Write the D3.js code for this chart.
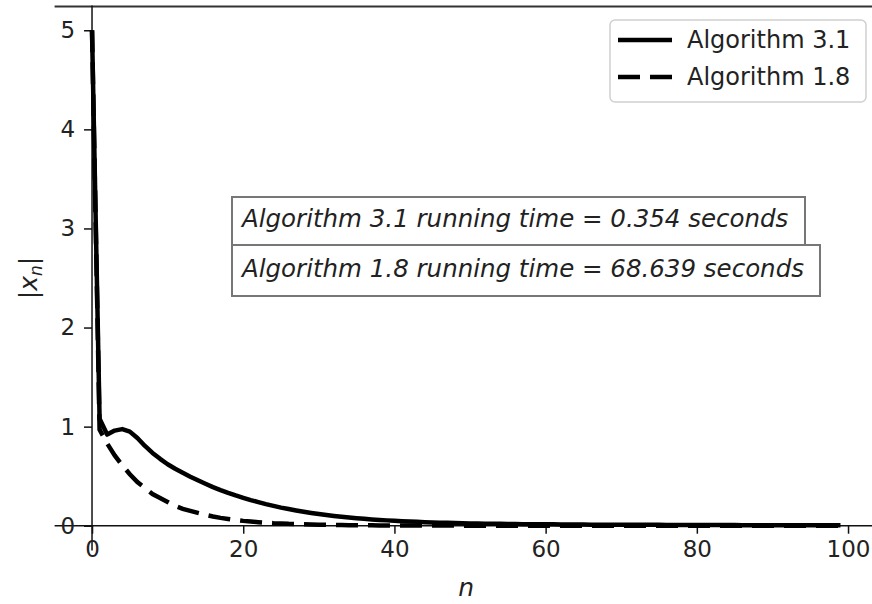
<!DOCTYPE html>
<html>
<head>
<meta charset="utf-8">
<script src="https://cdn.jsdelivr.net/npm/d3@7"></script>
<style>
  html, body { margin: 0; padding: 0; background: #fff; }
  svg { display: block; font-family: "DejaVu Sans", sans-serif; }
</style>
</head>
<body>
<svg id="chart" width="872" height="604"></svg>
<script>
// ---------- data ----------
const seriesNames = ["Algorithm 3.1", "Algorithm 1.8"];
const alg31 = [
  5.0, 1.08, 0.92, 0.96, 0.975, 0.95, 0.885, 0.805, 0.735, 0.675,
  0.62, 0.575, 0.535, 0.495, 0.458, 0.423, 0.39, 0.36, 0.332, 0.306,
  0.282, 0.259, 0.238, 0.218, 0.200, 0.183, 0.168, 0.154, 0.141, 0.129,
  0.118, 0.108, 0.099, 0.091, 0.083, 0.076, 0.070, 0.064, 0.059, 0.054,
  0.050, 0.046, 0.042, 0.039, 0.036, 0.033, 0.031, 0.029, 0.027, 0.025,
  0.023, 0.022, 0.021, 0.020, 0.019, 0.018, 0.017, 0.016, 0.015, 0.015,
  0.014, 0.014, 0.013, 0.013, 0.012, 0.012, 0.011, 0.011, 0.011, 0.010,
  0.010, 0.010, 0.009, 0.009, 0.009, 0.009, 0.008, 0.008, 0.008, 0.008,
  0.008, 0.007, 0.007, 0.007, 0.007, 0.007, 0.006, 0.006, 0.006, 0.006,
  0.006, 0.006, 0.006, 0.005, 0.005, 0.005, 0.005, 0.005, 0.005, 0.005
];
const alg18 = [
  5.0, 0.97, 0.83, 0.71, 0.61, 0.52, 0.44, 0.38, 0.32, 0.28,
  0.24, 0.20, 0.17, 0.15, 0.13, 0.11, 0.093, 0.079, 0.068, 0.058,
  0.049, 0.042, 0.036, 0.031, 0.026, 0.023, 0.019, 0.017, 0.014, 0.012,
  0.010, 0.009, 0.008, 0.007, 0.006, 0.005, 0.0045, 0.004, 0.0035, 0.003,
  0.0027, 0.0024, 0.0021, 0.0019, 0.0017, 0.0015, 0.0013, 0.0012, 0.0011, 0.0010,
  0.0009, 0.0008, 0.0007, 0.0007, 0.0006, 0.0006, 0.0005, 0.0005, 0.0004, 0.0004,
  0.0004, 0.0003, 0.0003, 0.0003, 0.0003, 0.0003, 0.0003, 0.0003, 0.0003, 0.0003,
  0.0003, 0.0003, 0.0003, 0.0002, 0.0002, 0.0002, 0.0002, 0.0002, 0.0002, 0.0002,
  0.0002, 0.0002, 0.0002, 0.0002, 0.0002, 0.0002, 0.0002, 0.0002, 0.0002, 0.0002,
  0.0002, 0.0001, 0.0001, 0.0001, 0.0001, 0.0001, 0.0001, 0.0001, 0.0001, 0.0001
];
const xTicks = [0, 20, 40, 60, 80, 100];
const yTicks = [0, 1, 2, 3, 4, 5];
const annotations = [
  "Algorithm 3.1 running time = 0.354 seconds",
  "Algorithm 1.8 running time = 68.639 seconds"
];

// ---------- layout ----------
const svg = d3.select("#chart");
const box = { left: 54.6, right: 877.9, top: 5.5, bottom: 550.5 };
const x = d3.scaleLinear().domain([-4.95, 103.95]).range([box.left, box.right]);
const y = d3.scaleLinear().domain([-0.25, 5.25]).range([box.bottom, box.top]);
const ink = "#111";
const tickFont = 23;

// spines: left and bottom at data zero, top at the box edge
svg.append("line").attr("x1", box.left).attr("x2", box.right)
  .attr("y1", box.top + 1).attr("y2", box.top + 1)
  .attr("stroke", "#333").attr("stroke-width", 2);
svg.append("line").attr("x1", x(0)).attr("x2", x(0))
  .attr("y1", box.top).attr("y2", box.bottom)
  .attr("stroke", ink).attr("stroke-width", 1.5);
svg.append("line").attr("x1", box.left).attr("x2", box.right)
  .attr("y1", y(0)).attr("y2", y(0))
  .attr("stroke", ink).attr("stroke-width", 1.5);

// axes
const xAxis = svg.append("g").attr("transform", `translate(0,${y(0)})`)
  .call(d3.axisBottom(x).tickValues(xTicks).tickFormat(d3.format("d")).tickSize(8).tickPadding(7));
const yAxis = svg.append("g").attr("transform", `translate(${x(0)},0)`)
  .call(d3.axisLeft(y).tickValues(yTicks).tickFormat(d3.format("d")).tickSize(8).tickPadding(9));
[xAxis, yAxis].forEach(g => {
  g.select(".domain").remove();
  g.selectAll(".tick line").attr("stroke", ink).attr("stroke-width", 1.5);
  g.selectAll(".tick text").attr("fill", "#222")
    .style("font-family", "DejaVu Sans").style("font-size", tickFont + "px");
});

// lines
const line = d3.line().x((d, i) => x(i)).y(d => y(d));
svg.append("path").datum(alg31).attr("d", line)
  .attr("fill", "none").attr("stroke", "#000").attr("stroke-width", 4.5)
  .attr("stroke-linejoin", "round");
svg.append("path").datum(alg18).attr("d", line)
  .attr("fill", "none").attr("stroke", "#000").attr("stroke-width", 4.5)
  .attr("stroke-dasharray", "22,10");

// axis labels
svg.append("text").attr("x", (box.left + box.right) / 2).attr("y", 596)
  .attr("text-anchor", "middle").style("font-size", "25px").style("font-style", "italic")
  .attr("fill", "#222").text("n");
const yl = svg.append("text").attr("transform", "translate(37,278) rotate(-90)")
  .attr("text-anchor", "middle").style("font-size", "25px").attr("fill", "#222");
yl.append("tspan").text("|");
yl.append("tspan").style("font-style", "italic").text("x");
yl.append("tspan").style("font-style", "italic").style("font-size", "17px").attr("dy", 5).text("n");
yl.append("tspan").attr("dy", -5).text("|");

// annotation boxes
const annBoxes = [
  { x: 232, y: 197, w: 573, h: 48, base: 227 },
  { x: 232, y: 245, w: 588, h: 51, base: 277 }
];
annotations.forEach((t, i) => {
  const b = annBoxes[i];
  svg.append("rect").attr("x", b.x).attr("y", b.y).attr("width", b.w).attr("height", b.h)
    .attr("fill", "#fff").attr("stroke", "#777").attr("stroke-width", 2);
  svg.append("text").attr("x", b.x + 10).attr("y", b.base)
    .style("font-size", "24.5px").style("font-style", "italic").attr("fill", "#222").text(t);
});

// legend
const lg = svg.append("g");
lg.append("rect").attr("x", 610).attr("y", 20).attr("width", 256).attr("height", 82)
  .attr("rx", 5).attr("fill", "#fff").attr("stroke", "#d0d0d0").attr("stroke-width", 1.5);
seriesNames.forEach((name, i) => {
  const ly = 40 + i * 37;
  lg.append("line").attr("x1", 618).attr("x2", 672).attr("y1", ly).attr("y2", ly)
    .attr("stroke", "#000").attr("stroke-width", 4.5)
    .attr("stroke-dasharray", i === 1 ? "22,10" : null);
  lg.append("text").attr("x", 687).attr("y", ly + 7.5)
    .style("font-size", "24px").attr("fill", "#222").text(name);
});
</script>
</body>
</html>
